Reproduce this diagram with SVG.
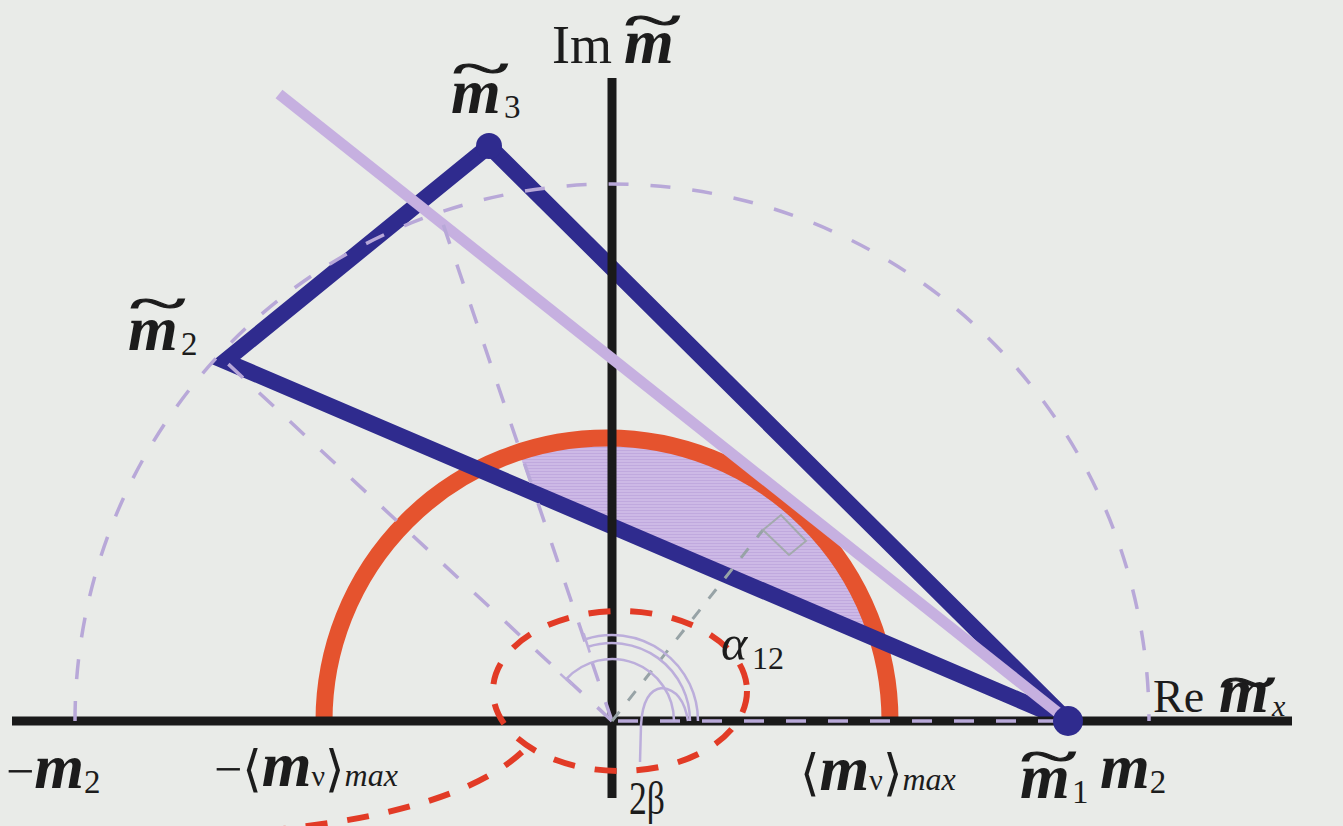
<svg xmlns="http://www.w3.org/2000/svg" width="1343" height="826" viewBox="0 0 1343 826">
<style>
.txt{fill:#1c1c1c;font-family:'Liberation Serif','DejaVu Serif',serif}
.m{font-style:italic;font-weight:bold;font-size:64px}
.sub{font-size:33px}
.tl{font-size:54px;text-anchor:middle;stroke:#1c1c1c;stroke-width:1.1}
.lavdash{fill:none;stroke:#b8a8d8;stroke-width:3.5;stroke-dasharray:20 22}
.arc{fill:none;stroke:#bcaedb;stroke-width:2.5}
.reddash{fill:none;stroke:#e23b26;stroke-width:6;stroke-dasharray:22 20}
</style>
<defs>
<pattern id="hatch" width="4" height="3" patternUnits="userSpaceOnUse">
<rect width="4" height="3" fill="#cdb9e6"/>
<line x1="0" y1="0.5" x2="4" y2="0.5" stroke="#c0a9de" stroke-width="1"/>
</pattern>
</defs>
<rect width="1343" height="826" fill="#e9ebe8"/>

<g id="shaded-region">
<path d="M533 493.4 L518.6 451 A283 283 0 0 1 878.3 639.6 Z" fill="url(#hatch)"/>
</g>

<g id="red-circle">
<path d="M324 721 A283 283 0 0 1 890 721" fill="none" stroke="#e5532e" stroke-width="17"/>
</g>

<g id="triangle">
<polygon points="1068,721 225,361 489,146" fill="none" stroke="#2f2b8e" stroke-width="16" stroke-linejoin="miter" stroke-miterlimit="4"/>
</g>

<g id="axes">
<line x1="12" y1="721" x2="1292" y2="721" stroke="#1a1a1a" stroke-width="9"/>
<line x1="612" y1="78" x2="612" y2="798" stroke="#1a1a1a" stroke-width="9"/>
</g>

<g id="tangent-line">
<line x1="279" y1="94" x2="1066" y2="719" stroke="#c6b0e0" stroke-width="11"/>
</g>

<g id="connectors">
<path class="lavdash" d="M75 721 A537 537 0 0 1 1149 721"/>
<line class="lavdash" x1="612" y1="721" x2="225" y2="361"/>
<line class="lavdash" x1="612" y1="721" x2="440" y2="215"/>
<line class="lavdash" x1="618" y1="721" x2="1055" y2="721" stroke="#c9bde6"/>
<line x1="612" y1="721" x2="763" y2="530" stroke="#97a3a6" stroke-width="3" stroke-dasharray="12 14"/>
<polygon points="763,530 781,515 806,541 789,555" fill="none" stroke="#a3aaad" stroke-width="2"/>
<path class="arc" d="M674 721 A62 62 0 0 0 566.2 679.2"/>
<line class="arc" x1="572.1" y1="684.6" x2="560.3" y2="673.8"/>
<path class="arc" d="M690 721 A78 78 0 0 0 587.9 646.8"/>
<path class="arc" d="M698 721 A86 86 0 0 0 585.4 639.2"/>
<line class="arc" x1="589.8" y1="652.5" x2="583.6" y2="633.5"/>
<path class="arc" d="M688 721 Q683 690 662 688 Q643 690 641 725 L640 762"/>
<ellipse class="reddash" cx="620" cy="691" rx="127" ry="80"/>
<path class="reddash" d="M522 752 C470 800 360 826 220 834"/>
</g>

<g id="m1-node">
<circle cx="1068" cy="721" r="15" fill="#2f2b8e"/>
<text class="txt m" x="1020" y="798">m</text>
<text class="txt tl" transform="translate(1049,760) scale(2,1)" y="15">~</text>
<text class="txt sub" x="1072" y="803">1</text>
</g>
<g id="m2-node">
<text class="txt m" x="128" y="350">m</text>
<text class="txt tl" transform="translate(158,307) scale(2,1)" y="15">~</text>
<text class="txt sub" x="181" y="355">2</text>
</g>
<g id="m3-node">
<circle cx="489" cy="146" r="13" fill="#2f2b8e"/>
<text class="txt m" x="451" y="113">m</text>
<text class="txt tl" transform="translate(481,72) scale(2,1)" y="15">~</text>
<text class="txt sub" x="504" y="118">3</text>
</g>

<g id="labels">
<text class="txt" x="552" y="63" font-size="54">Im</text>
<text class="txt m" x="624" y="63">m</text>
<text class="txt tl" transform="translate(653,24) scale(2,1)" y="15">~</text>

<text class="txt" x="1153" y="712" font-size="46">Re</text>
<text class="txt m" x="1219" y="712">m</text>
<text class="txt tl" transform="translate(1248,686) scale(2,1)" y="15">~</text>
<text class="txt" x="1272" y="716" font-size="30" font-style="italic">x</text>

<text class="txt" x="1100" y="788"><tspan class="m">m</tspan><tspan class="sub" dy="5">2</tspan></text>
<text class="txt" x="6" y="788"><tspan font-size="50">−</tspan><tspan class="m">m</tspan><tspan class="sub" dy="5">2</tspan></text>

<text class="txt" x="800" y="790"><tspan font-size="50">⟨</tspan><tspan class="m">m</tspan><tspan font-size="30">ν</tspan><tspan font-size="50">⟩</tspan><tspan font-size="32" font-style="italic">max</tspan></text>
<text class="txt" x="214" y="786"><tspan font-size="50">−⟨</tspan><tspan class="m">m</tspan><tspan font-size="30">ν</tspan><tspan font-size="50">⟩</tspan><tspan font-size="32" font-style="italic">max</tspan></text>

<text class="txt" x="721" y="660" font-size="50" font-style="italic">α</text>
<text class="txt" x="752" y="669" font-size="32">12</text>
<text class="txt" x="629" y="814" font-size="46" font-family="'Liberation Sans',sans-serif" textLength="36" lengthAdjust="spacingAndGlyphs">2β</text>
</g>
</svg>
